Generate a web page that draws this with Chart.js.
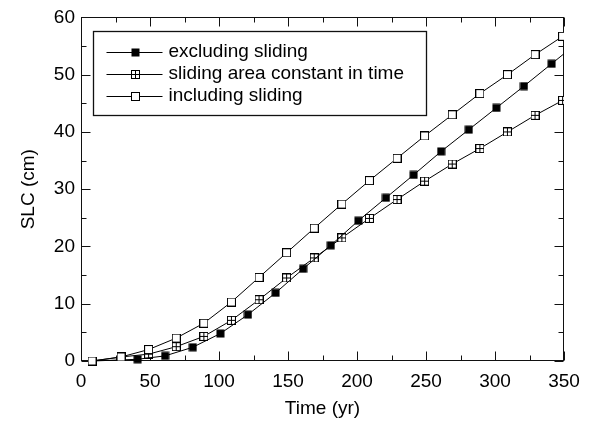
<!DOCTYPE html>
<html lang="en">
<head>
<meta charset="UTF-8">
<title>SLC vs time</title>
<script src="https://cdn.jsdelivr.net/npm/chart.js"></script>
<style>
  html, body { margin: 0; padding: 0; background: #fff; }
  #wrap { width: 591px; height: 426px; position: relative; }
</style>
</head>
<body>
<div id="wrap"><canvas id="slcChart"></canvas></div>
<script>
// values
var xTicks = [0, 50, 100, 150, 200, 250, 300, 350];
var yTicks = [0, 10, 20, 30, 40, 50, 60];

var seriesNames = ['excluding sliding', 'sliding area constant in time', 'including sliding'];

// excluding sliding (filled squares); last point lies past the axis end and is clipped
var tExcl   = [8, 41, 61, 81, 101, 121, 141, 161, 181, 201, 221, 241, 261, 281, 301, 321, 341, 361];
var slcExcl = [0, 0.3, 0.9, 2.4, 4.8, 8.1, 11.9, 16.1, 20.2, 24.5, 28.5, 32.5, 36.6, 40.4, 44.2, 48.0, 51.9, 55.8];

// sliding area constant in time (crossed squares)
var tConst   = [8, 29, 49, 69, 89, 109, 129, 149, 169, 189, 209, 229, 249, 269, 289, 309, 329, 349];
var slcConst = [0, 0.7, 1.2, 2.5, 4.3, 7.1, 10.7, 14.5, 18.0, 21.5, 24.9, 28.2, 31.4, 34.4, 37.1, 40.0, 42.9, 45.5];

// including sliding (open squares)
var tIncl   = [8, 29, 49, 69, 89, 109, 129, 149, 169, 189, 209, 229, 249, 269, 289, 309, 329, 349];
var slcIncl = [0, 0.7, 2.0, 4.0, 6.6, 10.3, 14.6, 18.9, 23.2, 27.4, 31.5, 35.4, 39.3, 43.0, 46.7, 50.0, 53.5, 56.7];

function pairs(t, v) {
    return t.map(function (x, i) { return { x: x, y: v[i] }; });
}

// small square markers
function makeMarker(kind) {
    var c = document.createElement('canvas');
    c.width = 9; c.height = 9;
    var g = c.getContext('2d');
    if (kind === 'filled') {
        g.fillStyle = '#000';
        g.fillRect(0.5, 0.5, 8, 8);
    } else {
        g.fillStyle = '#fff';
        g.fillRect(0.5, 0.5, 8, 8);
        g.strokeStyle = '#000';
        g.lineWidth = 1;
        g.strokeRect(0.5, 0.5, 8, 8);
        if (kind === 'crossed') {
            g.beginPath();
            g.moveTo(4.5, 1); g.lineTo(4.5, 8);
            g.moveTo(1, 4.5); g.lineTo(8, 4.5);
            g.stroke();
        }
    }
    return c;
}
var markers = [makeMarker('filled'), makeMarker('crossed'), makeMarker('open')];

Chart.defaults.font.family = "'Liberation Sans', Arial, Helvetica, sans-serif";
Chart.defaults.font.size = 19;
Chart.defaults.color = '#000';

// frame with inward ticks on all four sides
var frameTicks = {
    id: 'frameTicks',
    beforeDatasetsDraw: function (chart) {
        var a = chart.chartArea, sx = chart.scales.x, sy = chart.scales.y, ctx = chart.ctx;
        var L = Math.round(a.left) + 0.5, R = Math.round(a.right) - 0.5;
        var T = Math.round(a.top) + 0.5, B = Math.round(a.bottom) - 0.5;
        ctx.save();
        ctx.strokeStyle = '#111';
        ctx.lineWidth = 1;
        ctx.strokeRect(L, T, R - L, B - T);
        ctx.beginPath();
        for (var v = xTicks[0]; v <= xTicks[xTicks.length - 1]; v += 25) {
            var px = Math.round(sx.getPixelForValue(v)) + 0.5;
            var len = (v % 50 === 0) ? 9 : 5;
            ctx.moveTo(px, B); ctx.lineTo(px, B - len);
            ctx.moveTo(px, T); ctx.lineTo(px, T + len);
        }
        for (var w = yTicks[0]; w <= yTicks[yTicks.length - 1]; w += 5) {
            var py = Math.round(sy.getPixelForValue(w)) + 0.5;
            var ln = (w % 10 === 0) ? 9 : 5;
            ctx.moveTo(L, py); ctx.lineTo(L + ln, py);
            ctx.moveTo(R, py); ctx.lineTo(R - ln, py);
        }
        ctx.stroke();
        ctx.restore();
    }
};

// boxed legend inside the plot
var boxLegend = {
    id: 'boxLegend',
    afterDraw: function (chart) {
        var a = chart.chartArea, ctx = chart.ctx;
        var bx = Math.round(a.left) + 12.5, by = Math.round(a.top) + 14.5;
        ctx.save();
        ctx.strokeStyle = '#111';
        ctx.lineWidth = 1.3;
        ctx.fillStyle = '#fff';
        ctx.fillRect(bx, by, 333, 84);
        ctx.strokeRect(bx, by, 333, 84);
        ctx.font = "19px 'Liberation Sans', Arial, sans-serif";
        ctx.textBaseline = 'middle';
        ctx.lineWidth = 1;
        for (var i = 0; i < seriesNames.length; i++) {
            var ry = by + 20 + i * 22;
            ctx.strokeStyle = '#000';
            ctx.beginPath();
            ctx.moveTo(bx + 13, Math.round(ry) + 0.5);
            ctx.lineTo(bx + 69, Math.round(ry) + 0.5);
            ctx.stroke();
            ctx.drawImage(markers[i], Math.round(bx + 42 - 4.5), Math.round(ry - 4));
            ctx.fillStyle = '#000';
            ctx.fillText(seriesNames[i], bx + 75, ry);
        }
        ctx.restore();
    }
};

function lineSet(i, t, v, order) {
    return {
        label: seriesNames[i],
        data: pairs(t, v),
        borderColor: '#000',
        borderWidth: 1,
        backgroundColor: '#000',
        pointStyle: markers[i],
        pointRadius: 4.5,
        tension: 0,
        // let markers on the axes show whole, but cut the line at the right edge
        clip: { left: 8, top: 8, right: 0, bottom: 8 },
        order: order
    };
}

var ctx = document.getElementById('slcChart').getContext('2d');
var slcChart = new Chart(ctx, {
    type: 'line',
    data: {
        datasets: [
            lineSet(0, tExcl, slcExcl, 1),
            lineSet(1, tConst, slcConst, 2),
            lineSet(2, tIncl, slcIncl, 0)
        ]
    },
    options: {
        responsive: true,
        maintainAspectRatio: false,
        animation: false,
        events: [],
        layout: { padding: { top: 14, right: 27, left: 0, bottom: 0 } },
        plugins: {
            legend: { display: false },
            tooltip: { enabled: false }
        },
        scales: {
            x: {
                type: 'linear',
                min: 0,
                max: 350,
                afterBuildTicks: function (s) { s.ticks = xTicks.map(function (v) { return { value: v }; }); },
                afterFit: function (s) { s.height = 65; },
                grid: { display: false, drawTicks: false },
                border: { display: false },
                ticks: { padding: 9, maxRotation: 0, autoSkip: false },
                title: { display: true, text: 'Time (yr)', padding: { top: 0, bottom: 6 } }
            },
            y: {
                min: 0,
                max: 60,
                afterBuildTicks: function (s) { s.ticks = yTicks.map(function (v) { return { value: v }; }); },
                afterFit: function (s) { s.width = 81; },
                grid: { display: false, drawTicks: false },
                border: { display: false },
                ticks: { padding: 6 },
                title: { display: true, text: 'SLC (cm)', padding: { top: 17, bottom: 0 } }
            }
        }
    },
    plugins: [frameTicks, boxLegend]
});
</script>
</body>
</html>
